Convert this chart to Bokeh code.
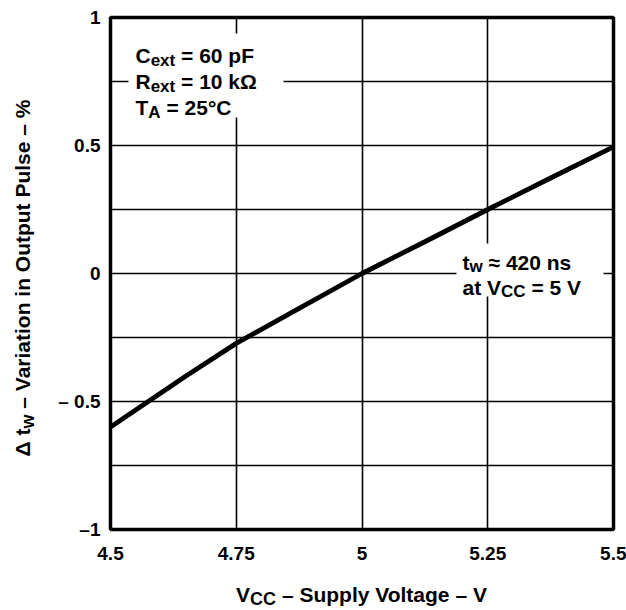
import numpy as np
from bokeh.plotting import figure
from bokeh.models import FixedTicker, Label, BoxAnnotation, Range1d, Div
from bokeh.layouts import row, column
from bokeh.embed import file_html
from bokeh.resources import INLINE

# ---- data ----
vcc = [4.5, 4.575, 4.65, 4.75, 4.875, 5.0, 5.125, 5.25, 5.375, 5.5]
dtw = [-0.60, -0.50, -0.40, -0.273, -0.136, 0.0, 0.124, 0.25, 0.373, 0.495]

x_ticks = [4.5, 4.75, 5.0, 5.25, 5.5]
x_tick_labels = ["4.5", "4.75", "5", "5.25", "5.5"]
y_ticks = [-1.0, -0.5, 0.0, 0.5, 1.0]
y_tick_labels = ["\u20131", "\u2013 0.5", "0", "0.5", "1"]
x_grid = [4.5, 4.75, 5.0, 5.25, 5.5]
y_grid = [-1.0, -0.75, -0.5, -0.25, 0.0, 0.25, 0.5, 0.75, 1.0]

x_title = ("V", "CC", " \u2013 Supply Voltage \u2013 V")
y_title = ("\u0394 t", "w", " \u2013 Variation in Output Pulse \u2013 %")

X0, X1 = 4.5, 5.5
Y0, Y1 = -1.0, 1.0

FONT = "Liberation Sans"

# ---- layout (page pixel coordinates) ----
PW, PH = 626, 610
YDIV_W = 40
XDIV_H = 30
FL, FT, FR, FB = 110, 17, 613, 529   # frame edges on page

W = PW - YDIV_W
H = PH - XDIV_H

p = figure(width=W, height=H, x_range=Range1d(X0, X1), y_range=Range1d(Y0, Y1),
           output_backend="svg", toolbar_location=None, title=None,
           min_border_left=FL - YDIV_W, min_border_top=FT,
           min_border_right=W - (FR - YDIV_W), min_border_bottom=H - FB)
p.background_fill_color = "white"
p.border_fill_color = "white"
p.outline_line_color = "black"
p.outline_line_width = 3.5

for ax in (p.xaxis[0], p.yaxis[0]):
    ax.axis_line_color = None
    ax.major_tick_line_color = None
    ax.minor_tick_line_color = None
    ax.major_tick_out = 0
    ax.major_tick_in = 0
    ax.major_label_text_font = FONT
    ax.major_label_text_font_style = "bold"
    ax.major_label_text_font_size = "19px"
    ax.major_label_text_color = "black"
    ax.axis_label = None

p.xaxis.ticker = FixedTicker(ticks=x_ticks)
p.xaxis.major_label_overrides = {t: s for t, s in zip(x_ticks, x_tick_labels)}
p.xaxis.major_label_standoff = 17
p.yaxis.ticker = FixedTicker(ticks=y_ticks)
p.yaxis.major_label_overrides = {t: s for t, s in zip(y_ticks, y_tick_labels)}
p.yaxis.major_label_standoff = 10

p.xgrid.ticker = FixedTicker(ticks=x_grid)
p.ygrid.ticker = FixedTicker(ticks=y_grid)
for g in (p.xgrid[0], p.ygrid[0]):
    g.grid_line_color = "black"
    g.grid_line_width = 1.6
    g.grid_line_alpha = 1.0

p.line(vcc, dtw, line_color="black", line_width=4.8)

# ---- helpers to place annotation text given page pixel positions ----
def dx(px):
    return X0 + (px - FL) / (FR - FL) * (X1 - X0)

def dy(py):
    return Y1 - (py - FT) / (FB - FT) * (Y1 - Y0)

# Arial/Liberation Sans Bold advance widths (1/1000 em)
ADV = {" ": 278, "\u2013": 556, "=": 584, "\u2248": 584, "\u00b0": 400, "%": 889,
       ".": 278, "A": 722, "C": 722, "F": 611, "O": 778, "P": 667, "R": 722,
       "S": 667, "T": 611, "V": 667, "\u0394": 667, "\u03a9": 768,
       "a": 556, "e": 556, "g": 611, "i": 278, "k": 556, "l": 278, "n": 611,
       "o": 611, "p": 611, "r": 389, "s": 556, "t": 333, "u": 611, "w": 778,
       "x": 556, "y": 556}

def twidth(s, size):
    return sum(ADV.get(c, 556) for c in s) * size / 1000.0

def place_h(pieces, px, py):
    x = px
    for txt, size, drop in pieces:
        lead = len(txt) - len(txt.lstrip(" "))
        x += twidth(" " * lead, size)
        txt = txt.lstrip(" ")
        p.add_layout(Label(x=dx(x), y=dy(py + drop), text=txt, text_font=FONT,
                           text_font_style="bold", text_font_size=f"{size}px",
                           text_color="black", text_align="left",
                           text_baseline="alphabetic"))
        x += twidth(txt, size)

# white boxes behind the annotations
p.add_layout(BoxAnnotation(left=dx(128), right=dx(283), top=dy(33), bottom=dy(117),
                           fill_color="white", fill_alpha=1.0, line_color=None))
p.add_layout(BoxAnnotation(left=dx(456), right=dx(603), top=dy(243), bottom=dy(296),
                           fill_color="white", fill_alpha=1.0, line_color=None))

M, S = 21, 17
place_h([("C", M, 0), ("ext", S, 5), (" = 60 pF", M, 0)], 135, 55)
place_h([("R", M, 0), ("ext", S, 5), (" = 10 k\u03a9", M, 0)], 135, 81)
place_h([("T", M, 0), ("A", S, 5), (" = 25\u00b0C", M, 0)], 135, 107)

place_h([("t", M, 0), ("w", S, 4), (" \u2248 420 ns", M, 0)], 462, 262)
place_h([("at V", M, 0), ("CC", S, 4), (" = 5 V", M, 0)], 462, 287)

# ---- axis titles as HTML text (outside the plot frame) ----
TS, TSS = 21, 18
font_css = (f"font-family:'{FONT}';font-weight:bold;font-size:{TS}px;"
            f"line-height:{TS}px;color:black;white-space:nowrap;")

def title_html(parts, drop):
    a, b, c = parts
    sub_css = f"font-size:{TSS}px;position:relative;top:{drop}px;"
    return f"{a}<span style=\"{sub_css}\">{b}</span>{c}"

BASE = 18  # baseline offset inside a line box of TS px
# y title: baseline at page x=30, centred at page y=278
YLEN = 560
ydiv = Div(width=YDIV_W, height=PH, margin=0,
           text=(f"<div style=\"position:relative;width:{YDIV_W}px;height:{PH}px;\">"
                 f"<div style=\"position:absolute;left:{30 - BASE}px;top:{278 + YLEN // 2}px;"
                 f"width:{YLEN}px;text-align:center;transform:rotate(-90deg);"
                 f"transform-origin:0 0;{font_css}\">{title_html(y_title, 4)}</div></div>"))
# x title: baseline at page y=602, centred at page x=361.5
XLEN = 500
xc = (FL + FR) / 2 - YDIV_W
xdiv = Div(width=W, height=XDIV_H, margin=0,
           text=(f"<div style=\"position:relative;width:{W}px;height:{XDIV_H}px;\">"
                 f"<div style=\"position:absolute;left:{xc - XLEN / 2}px;"
                 f"top:{602 - H - BASE}px;width:{XLEN}px;text-align:center;{font_css}\">"
                 f"{title_html(x_title, 3)}</div></div>"))

layout = row(ydiv, column(p, xdiv, spacing=0), spacing=0)
open("out.html", "w").write(file_html(layout, INLINE))
